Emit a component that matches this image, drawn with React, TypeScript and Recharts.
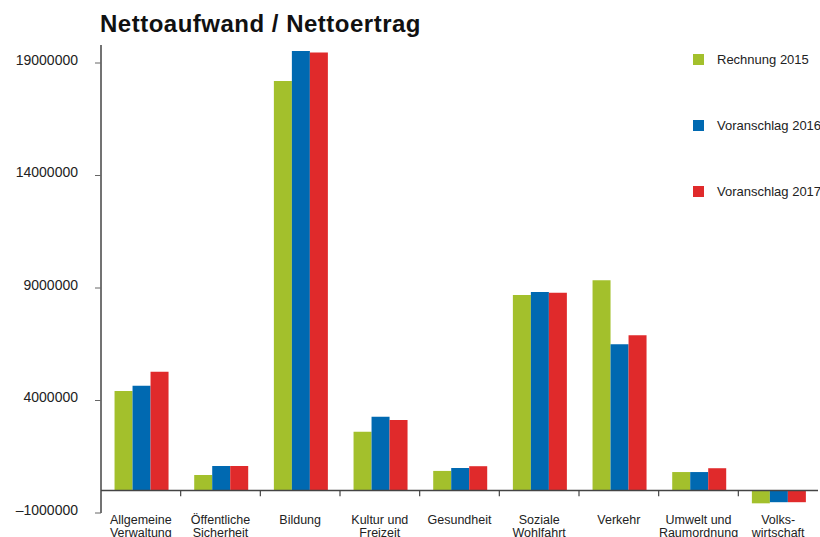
import React from "react";
import { Bar, BarChart, Legend, ReferenceLine, XAxis, YAxis } from "recharts";

const categories = [
  "Allgemeine\nVerwaltung",
  "Öffentliche\nSicherheit",
  "Bildung",
  "Kultur und\nFreizeit",
  "Gesundheit",
  "Soziale\nWohlfahrt",
  "Verkehr",
  "Umwelt und\nRaumordnung",
  "Volks-\nwirtschaft",
];

const rechnung2015 = [4420000, 690000, 18200000, 2610000, 870000, 8690000, 9340000, 820000, -570000];
const voranschlag2016 = [4660000, 1090000, 19530000, 3280000, 1000000, 8820000, 6500000, 820000, -520000];
const voranschlag2017 = [5280000, 1090000, 19470000, 3130000, 1080000, 8790000, 6900000, 990000, -520000];

const yTicks = [-1000000, 4000000, 9000000, 14000000, 19000000];

const seriesNames = ["Rechnung 2015", "Voranschlag 2016", "Voranschlag 2017"];
const seriesColors = ["#a3c02c", "#0069b1", "#e02a2b"];

const data = categories.map((name, i) => ({
  name,
  r2015: rechnung2015[i],
  v2016: voranschlag2016[i],
  v2017: voranschlag2017[i],
}));

const FONT = "'Liberation Sans', Arial, sans-serif";

function CategoryTick(props: any) {
  const { x, y, payload } = props;
  const lines = String(payload.value).split("\n");
  return (
    <text x={x} y={y} textAnchor="middle" fontSize={12.5} fontFamily={FONT} fill="#222">
      {lines.map((l, i) => (
        <tspan key={i} x={x} dy={i === 0 ? 11 : 13}>
          {l}
        </tspan>
      ))}
    </text>
  );
}

function LegendBox() {
  return (
    <div style={{ fontFamily: FONT, fontSize: 13, color: "#222", whiteSpace: "nowrap" }}>
      {seriesNames.map((n, i) => (
        <div key={n} style={{ display: "flex", alignItems: "center", height: 18, marginBottom: i < 2 ? 48 : 0 }}>
          <span style={{ width: 11, height: 11, background: seriesColors[i], display: "inline-block", marginRight: 13, flex: "none" }} />
          <span>{n}</span>
        </div>
      ))}
    </div>
  );
}

export default function App() {
  return (
    <div style={{ position: "absolute", left: 0, top: 0, width: 820, height: 537, background: "#fff" }}>
      <div
        style={{
          position: "absolute",
          left: 100,
          top: 12,
          fontFamily: FONT,
          fontWeight: 700,
          fontSize: 24,
          lineHeight: "24px",
          letterSpacing: 0.5,
          color: "#111",
          whiteSpace: "nowrap",
        }}
      >
        Nettoaufwand / Nettoertrag
      </div>
      <BarChart
        width={820}
        height={537}
        data={data}
        margin={{ top: 45, right: 2, bottom: 0, left: 0 }}
        barCategoryGap="17%"
        barGap={0}
      >
        <XAxis
          dataKey="name"
          interval={0}
          axisLine={false}
          tickLine={false}
          tickSize={0}
          tickMargin={0}
          height={24}
          tick={<CategoryTick />}
        />
        <YAxis
          width={101}
          domain={[-1000000, 19800000]}
          ticks={yTicks}
          interval={0}
          axisLine={{ stroke: "#444", strokeWidth: 1.5 }}
          tickLine={{ stroke: "#666" }}
          tickSize={6}
          tickMargin={17}
          tick={{ fontSize: 14, fill: "#222", fontFamily: FONT, dy: -3 }}
          tickFormatter={(v: number) => String(v).replace("-", "–")}
        />
        <Legend
          layout="vertical"
          align="center"
          verticalAlign="middle"
          wrapperStyle={{ left: 693, top: 50, width: 127 }}
          content={<LegendBox />}
        />
        <Bar dataKey="r2015" name={seriesNames[0]} fill={seriesColors[0]} isAnimationActive={false} />
        <Bar dataKey="v2016" name={seriesNames[1]} fill={seriesColors[1]} isAnimationActive={false} />
        <Bar dataKey="v2017" name={seriesNames[2]} fill={seriesColors[2]} isAnimationActive={false} />
        <ReferenceLine y={0} stroke="#444" strokeWidth={1.5} />
        {categories.slice(1).map((c) => (
          <ReferenceLine
            key={c}
            segment={[
              { x: c, y: 0 },
              { x: c, y: -250000 },
            ]}
            position="start"
            stroke="#444"
            strokeWidth={1.2}
          />
        ))}
      </BarChart>
    </div>
  );
}
